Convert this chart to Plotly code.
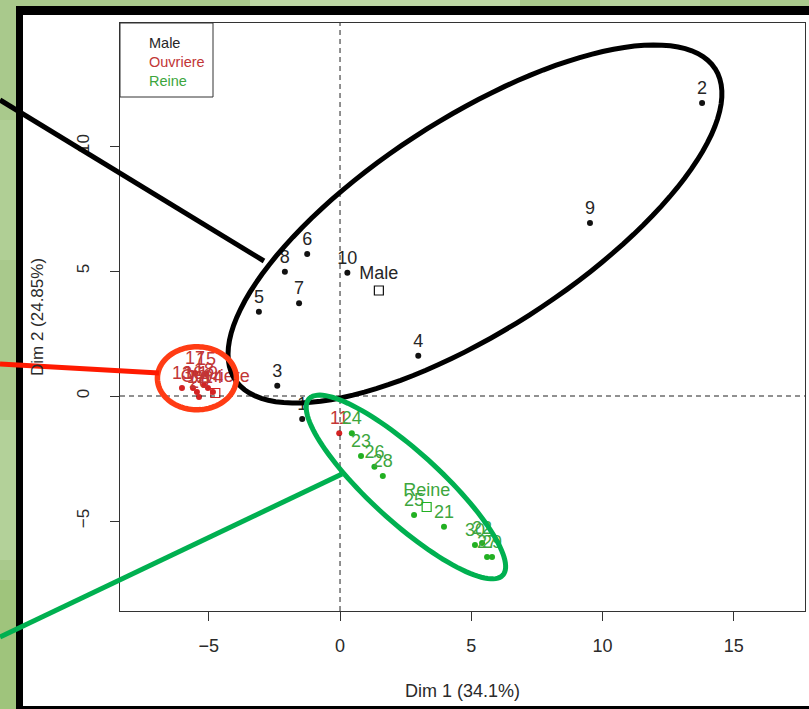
import numpy as np
import plotly.graph_objects as go

# ---- PCA individuals (Dim 1, Dim 2) ----
male_ids = ["1", "2", "3", "4", "5", "6", "7", "8", "9", "10"]
male_dim1 = [-1.44, 13.79, -2.39, 2.98, -3.09, -1.25, -1.56, -2.10, 9.52, 0.28]
male_dim2 = [-0.92, 11.72, 0.41, 1.61, 3.37, 5.68, 3.71, 4.97, 6.92, 4.93]

ouvr_ids = ["11", "12", "13", "14", "15", "16", "17", "18", "19", "20"]
ouvr_dim1 = [-0.03, -5.45, -6.02, -4.84, -5.10, -5.60, -5.52, -5.18, -5.03, -5.37]
ouvr_dim2 = [-1.49, 0.16, 0.32, 0.16, 0.88, 0.32, 0.92, 0.44, 0.32, -0.04]

reine_ids = ["21", "22", "23", "24", "25", "26", "27", "28", "29", "30"]
reine_dim1 = [3.96, 5.41, 0.80, 0.45, 2.82, 1.31, 5.60, 1.63, 5.79, 5.14]
reine_dim2 = [-5.23, -5.88, -2.40, -1.49, -4.76, -2.83, -6.44, -3.20, -6.44, -5.96]

# group barycentres
group_names = ["Male", "Ouvriere", "Reine"]
group_dim1 = [1.48, -4.75, 3.30]
group_dim2 = [4.22, 0.12, -4.44]
group_colors = ["#111111", "#d42222", "#22b022"]
label_colors = ["#262626", "#c23636", "#3da63d"]

x_ticks = [-5, 0, 5, 10, 15]
y_ticks = [-5, 0, 5, 10]
x_title = "Dim 1 (34.1%)"
y_title = "Dim 2 (24.85%)"

# ---- layout geometry ----
W, H = 809, 709
ML, MR, MT, MB = 120, 4, 23, 98
X_RANGE = [-8.38, 17.71]
Y_RANGE = [-8.60, 14.92]
PW, PH = W - ML - MR, H - MT - MB
PX_X = PW / (X_RANGE[1] - X_RANGE[0])
PX_Y = PH / (Y_RANGE[1] - Y_RANGE[0])

FONT = "Liberation Sans, Arial, sans-serif"
TXT = "#2a2a2a"


def px_to_paper(px, py):
    return (px - ML) / PW, (H - MB - py) / PH


def ellipse_path(cx, cy, a_px, b_px, angle_deg, n=120):
    """Closed SVG path of an ellipse in data units; semi-axes in screen pixels."""
    th = np.radians(angle_deg)
    t = np.linspace(0, 2 * np.pi, n)
    dx = a_px * np.cos(t) * np.cos(th) - b_px * np.sin(t) * np.sin(th)
    dy = a_px * np.cos(t) * np.sin(th) + b_px * np.sin(t) * np.cos(th)
    xs = cx + dx / PX_X
    ys = cy + dy / PX_Y
    pts = [f"{x:.4f},{y:.4f}" for x, y in zip(xs, ys)]
    return "M" + " L".join(pts) + " Z"


def paper_rect(x0, y0, x1, y1, color, layer="below"):
    a = px_to_paper(x0, y1)
    b = px_to_paper(x1, y0)
    return dict(type="rect", xref="paper", yref="paper", layer=layer,
                x0=a[0], y0=a[1], x1=b[0], y1=b[1],
                fillcolor=color, line=dict(width=0))


fig = go.Figure()

groups = [
    (male_ids, male_dim1, male_dim2, group_colors[0], label_colors[0]),
    (ouvr_ids, ouvr_dim1, ouvr_dim2, group_colors[1], label_colors[1]),
    (reine_ids, reine_dim1, reine_dim2, group_colors[2], label_colors[2]),
]
for ids, xs, ys, col, tcol in groups:
    fig.add_trace(go.Scatter(
        x=xs, y=ys, mode="markers+text", text=ids,
        textposition="top center",
        textfont=dict(family=FONT, size=18, color=tcol),
        marker=dict(size=6, color=col, symbol="circle"),
        showlegend=False, cliponaxis=False,
    ))

for name, gx, gy, col, tcol in zip(group_names, group_dim1, group_dim2, group_colors, label_colors):
    fig.add_trace(go.Scatter(
        x=[gx], y=[gy], mode="markers+text", text=[name],
        textposition="top center",
        textfont=dict(family=FONT, size=18, color=tcol),
        marker=dict(size=9, color=col, symbol="square-open", line=dict(width=1.2)),
        showlegend=False,
    ))

shapes = []
# soft green backdrop variations
for (x0, y0, x1, y1, c) in [
    (250, 0, 520, 6, "#bcd7a4"), (600, 0, 700, 6, "#b5d29c"),
    (0, 120, 16, 260, "#b0cf95"), (0, 420, 16, 560, "#b3d199"), (0, 580, 16, 720, "#9fc47c"),
]:
    shapes.append(paper_rect(x0, y0, x1, y1, c))
# black frame and white panel
shapes.append(paper_rect(16, 6, 820, 720, "#000000"))
shapes.append(paper_rect(23, 15, 820, 706, "#ffffff"))

# reference axes through the origin
shapes.append(dict(type="line", xref="paper", yref="y", x0=0, x1=1, y0=0, y1=0,
                   line=dict(color="#222222", width=1, dash="5px,4px")))
shapes.append(dict(type="line", xref="x", yref="paper", x0=0, x1=0, y0=0, y1=1,
                   line=dict(color="#222222", width=1, dash="5px,4px")))

# legend box
lx0, ly0 = px_to_paper(120, 97)
lx1, ly1 = px_to_paper(213, 23)
shapes.append(dict(type="rect", xref="paper", yref="paper", x0=lx0, y0=ly0, x1=lx1, y1=ly1,
                   line=dict(color="#333333", width=1), fillcolor="rgba(0,0,0,0)"))

# group ellipses
shapes.append(dict(type="path", xref="x", yref="y", layer="above",
                   path=ellipse_path(5.14, 6.88, 286, 106, 32.9),
                   line=dict(color="#000000", width=5)))
shapes.append(dict(type="path", xref="x", yref="y", layer="above",
                   path=ellipse_path(-5.45, 0.71, 39.5, 31.5, 0),
                   line=dict(color="#ff3c14", width=5.5)))
shapes.append(dict(type="path", xref="x", yref="y", layer="above",
                   path=ellipse_path(2.51, -3.64, 131, 35, -42.3),
                   line=dict(color="#00b050", width=5)))

# callout lines
for (p0, p1, col) in [((0, 100), (264, 261), "#000000"),
                      ((0, 364), (159, 373), "#ff1a00"),
                      ((0, 637), (342, 474), "#00b050")]:
    a = px_to_paper(*p0)
    b = px_to_paper(*p1)
    shapes.append(dict(type="line", xref="paper", yref="paper", layer="above",
                       x0=a[0], y0=a[1], x1=b[0], y1=b[1],
                       line=dict(color=col, width=5)))

legend_text = "<br>".join(
    f"<span style='color:{c}'>{n}</span>" for n, c in zip(group_names, label_colors)
)
annotations = [dict(
    text=legend_text, xref="paper", yref="paper",
    x=px_to_paper(147, 62)[0], y=px_to_paper(147, 62)[1],
    xanchor="left", yanchor="middle", align="left", showarrow=False,
    font=dict(family=FONT, size=14.5, color="#1a1a1a"),
)]

fig.update_layout(
    width=W, height=H,
    margin=dict(l=ML, r=MR, t=MT, b=MB, pad=0),
    paper_bgcolor="#a9c98c",
    plot_bgcolor="#ffffff",
    shapes=shapes,
    annotations=annotations,
    showlegend=False,
    xaxis=dict(
        range=X_RANGE, tickvals=x_ticks, ticks="outside", ticklen=9,
        tickcolor="#333333", showline=True, mirror=True, linecolor="#333333",
        linewidth=1, showgrid=False, zeroline=False, ticklabelstandoff=9,
        tickfont=dict(family=FONT, size=18, color=TXT),
        title=dict(text=x_title, font=dict(family=FONT, size=18, color=TXT), standoff=29),
    ),
    yaxis=dict(
        range=Y_RANGE, tickvals=y_ticks, ticks="outside", ticklen=9, tickangle=-90,
        tickcolor="#333333", showline=True, mirror=True, linecolor="#333333",
        linewidth=1, showgrid=False, zeroline=False, ticklabelstandoff=14,
        tickfont=dict(family=FONT, size=17, color=TXT),
        title=dict(text=y_title, font=dict(family=FONT, size=17, color=TXT), standoff=26),
    ),
)

fig.write_html("out.html")
